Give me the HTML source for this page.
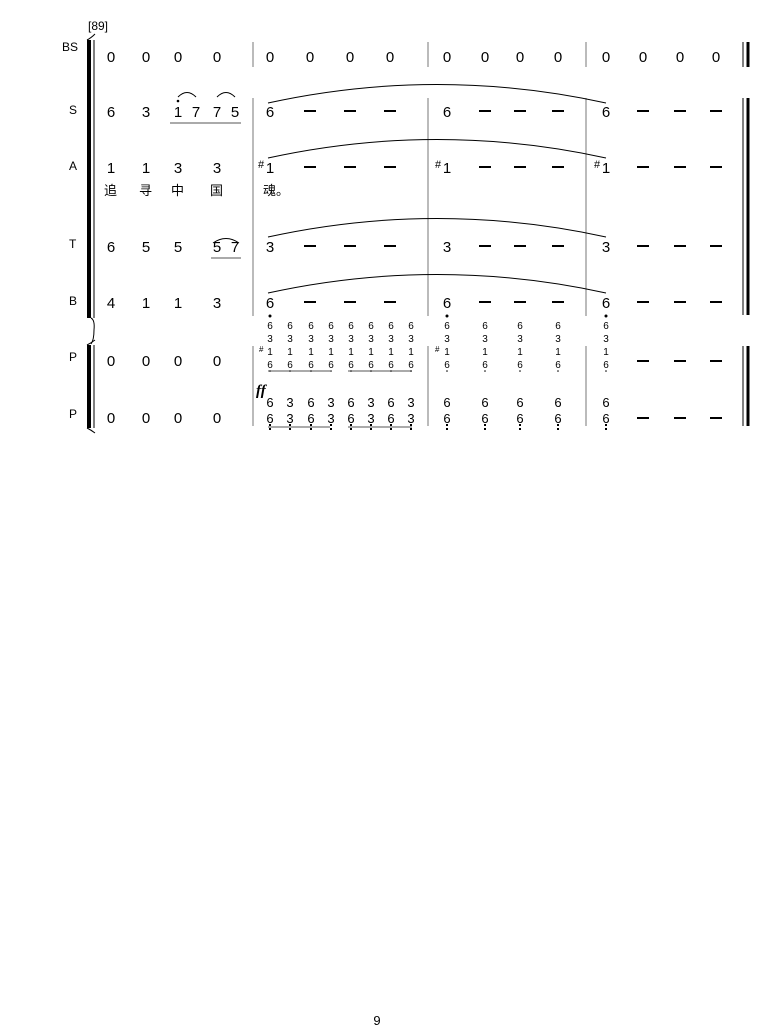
<!DOCTYPE html>
<html><head><meta charset="utf-8"><style>
body{margin:0;background:#fff;width:774px;height:1036px;overflow:hidden}
svg{display:block}
text{font-family:"Liberation Sans","Noto Sans CJK SC",sans-serif;fill:#000}
.n{font-size:15px;text-anchor:middle}
.s{font-size:10px;text-anchor:middle}
.l{font-size:13px}
</style></head><body>
<svg width="774" height="1036" viewBox="0 0 774 1036">
<defs>
<g id="c1" class="s" style="font-size:10px;text-anchor:middle">
<text x="0" y="329">6</text><text x="0" y="342">3</text><text x="0" y="355">1</text><text x="0" y="368">6</text>
<circle cx="0" cy="371" r="0.8"/>
</g>
<g id="d2"><rect x="-1" y="424" width="2" height="2"/><rect x="-1" y="428" width="2" height="2"/></g>
</defs>
<g stroke="#000" fill="none">
<path d="M89 40 V318" stroke-width="4"/>
<path d="M87 40 q4 -2 8 -6" stroke-width="1"/>
<path d="M94 40 V318" stroke-width="1"/>
<path d="M91 318 q4 2 3 12 q0 10 -3 14" stroke-width="1"/>
<path d="M89 345 V428" stroke-width="4"/>
<path d="M87 345 q4 -2 8 -5" stroke-width="1"/>
<path d="M87 428 q4 2 8 5" stroke-width="1"/>
<path d="M94 345 V428" stroke-width="1"/>
<g stroke="#777" stroke-width="1">
<path d="M253 42 V67 M428 42 V67 M586 42 V67"/>
<path d="M253 98 V316 M428 98 V316 M586 98 V316"/>
<path d="M253 346 V426 M428 346 V426 M586 346 V426"/>
</g>
<path d="M743 42 V67 M743 98 V315 M743 346 V426" stroke-width="1"/>
<path d="M748 42 V67 M748 98 V315 M748 346 V426" stroke-width="3"/>
<path d="M268 103 Q437 66 606 103" stroke-width="1"/>
<path d="M268 158 Q437 121 606 158" stroke-width="1"/>
<path d="M268 237 Q437 200 606 237" stroke-width="1"/>
<path d="M268 293 Q437 256 606 293" stroke-width="1"/>
<path d="M178 97 Q187 88 196 97 M217 97 Q226 88 235 97 M213 243 Q226 234 239 243" stroke-width="1"/>
<path d="M170 123 H241 M211 258 H241 M268 371 H330 M348 371 H412 M268 427 H330 M348 427 H412" stroke="#555" stroke-width="1"/>
<g stroke-width="2">
<path d="M304 111 H316 M344 111 H356 M384 111 H396 M479 111 H491 M514 111 H526 M552 111 H564 M637 111 H649 M674 111 H686 M710 111 H722"/>
<path d="M304 167 H316 M344 167 H356 M384 167 H396 M479 167 H491 M514 167 H526 M552 167 H564 M637 167 H649 M674 167 H686 M710 167 H722"/>
<path d="M304 246 H316 M344 246 H356 M384 246 H396 M479 246 H491 M514 246 H526 M552 246 H564 M637 246 H649 M674 246 H686 M710 246 H722"/>
<path d="M304 302 H316 M344 302 H356 M384 302 H396 M479 302 H491 M514 302 H526 M552 302 H564 M637 302 H649 M674 302 H686 M710 302 H722"/>
<path d="M637 361 H649 M674 361 H686 M710 361 H722 M637 418 H649 M674 418 H686 M710 418 H722"/>
</g>
</g>
<text x="88" y="30" style="font-size:12px">[89]</text>
<g style="font-size:12px">
<text x="62" y="51">BS</text><text x="69" y="114">S</text><text x="69" y="170">A</text>
<text x="69" y="248">T</text><text x="69" y="305">B</text><text x="69" y="361">P</text><text x="69" y="418">P</text>
</g>
<g class="n">
<text x="111" y="62">0</text><text x="146" y="62">0</text><text x="178" y="62">0</text><text x="217" y="62">0</text>
<text x="270" y="62">0</text><text x="310" y="62">0</text><text x="350" y="62">0</text><text x="390" y="62">0</text>
<text x="447" y="62">0</text><text x="485" y="62">0</text><text x="520" y="62">0</text><text x="558" y="62">0</text>
<text x="606" y="62">0</text><text x="643" y="62">0</text><text x="680" y="62">0</text><text x="716" y="62">0</text>
<text x="111" y="117">6</text><text x="146" y="117">3</text><text x="178" y="117">1</text><text x="196" y="117">7</text><text x="217" y="117">7</text><text x="235" y="117">5</text>
<text x="270" y="117">6</text><text x="447" y="117">6</text><text x="606" y="117">6</text>
<text x="111" y="173">1</text><text x="146" y="173">1</text><text x="178" y="173">3</text><text x="217" y="173">3</text>
<text x="270" y="173">1</text><text x="447" y="173">1</text><text x="606" y="173">1</text>
<text x="111" y="252">6</text><text x="146" y="252">5</text><text x="178" y="252">5</text><text x="217" y="252">5</text><text x="235" y="252">7</text>
<text x="270" y="252">3</text><text x="447" y="252">3</text><text x="606" y="252">3</text>
<text x="111" y="308">4</text><text x="146" y="308">1</text><text x="178" y="308">1</text><text x="217" y="308">3</text>
<text x="270" y="308">6</text><text x="447" y="308">6</text><text x="606" y="308">6</text>
<text x="111" y="366">0</text><text x="146" y="366">0</text><text x="178" y="366">0</text><text x="217" y="366">0</text>
<text x="111" y="423">0</text><text x="146" y="423">0</text><text x="178" y="423">0</text><text x="217" y="423">0</text>
</g>
<circle cx="178" cy="101" r="1.3"/>
<circle cx="270" cy="316" r="1.5"/><circle cx="447" cy="316" r="1.5"/><circle cx="606" cy="316" r="1.5"/>
<g style="font-size:11px"><text x="258" y="168">#</text><text x="435" y="168">#</text><text x="594" y="168">#</text></g>
<g class="l">
<text x="104" y="195">追</text><text x="139" y="195">寻</text><text x="171" y="195">中</text><text x="210" y="195">国</text><text x="263" y="195">魂。</text>
</g>
<use href="#c1" x="270"/><use href="#c1" x="290"/><use href="#c1" x="311"/><use href="#c1" x="331"/>
<use href="#c1" x="351"/><use href="#c1" x="371"/><use href="#c1" x="391"/><use href="#c1" x="411"/>
<use href="#c1" x="447"/><use href="#c1" x="485"/><use href="#c1" x="520"/><use href="#c1" x="558"/><use href="#c1" x="606"/>
<g style="font-size:8px"><text x="259" y="352">#</text><text x="435" y="352">#</text></g>
<text x="256" y="395" style="font-size:15px;font-style:italic;font-weight:bold;font-family:'Liberation Serif',serif">ff</text>
<g class="n" style="font-size:13px">
<text x="270" y="407">6</text><text x="290" y="407">3</text><text x="311" y="407">6</text><text x="331" y="407">3</text>
<text x="351" y="407">6</text><text x="371" y="407">3</text><text x="391" y="407">6</text><text x="411" y="407">3</text>
<text x="270" y="423">6</text><text x="290" y="423">3</text><text x="311" y="423">6</text><text x="331" y="423">3</text>
<text x="351" y="423">6</text><text x="371" y="423">3</text><text x="391" y="423">6</text><text x="411" y="423">3</text>
<text x="447" y="407">6</text><text x="485" y="407">6</text><text x="520" y="407">6</text><text x="558" y="407">6</text><text x="606" y="407">6</text>
<text x="447" y="423">6</text><text x="485" y="423">6</text><text x="520" y="423">6</text><text x="558" y="423">6</text><text x="606" y="423">6</text>
</g>
<use href="#d2" x="270"/><use href="#d2" x="290"/><use href="#d2" x="311"/><use href="#d2" x="331"/>
<use href="#d2" x="351"/><use href="#d2" x="371"/><use href="#d2" x="391"/><use href="#d2" x="411"/>
<use href="#d2" x="447"/><use href="#d2" x="485"/><use href="#d2" x="520"/><use href="#d2" x="558"/><use href="#d2" x="606"/>
<text x="377" y="1025" style="font-size:13px;text-anchor:middle">9</text>
</svg>
</body></html>
